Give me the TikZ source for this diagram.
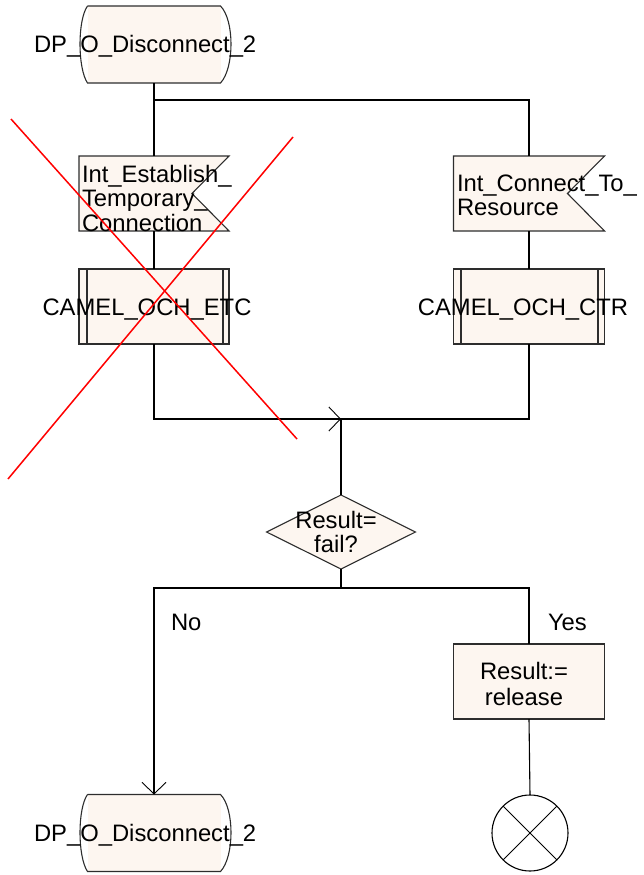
\documentclass[tikz,border=0pt]{standalone}
\usepackage{fontspec}
\setmainfont{Liberation Sans}
\usetikzlibrary{calc,shapes.geometric,arrows.meta}

\definecolor{sdlfill}{RGB}{253,246,240}
\definecolor{sdlline}{RGB}{45,45,45}

\tikzset{
  flow/.style={draw=black, line width=1.1pt},
  openarrow/.style={-{Straight Barb[length=11.5pt,width=24pt,line width=0.9pt]}},
  box/.style={draw=sdlline, line width=1.1pt},
  shapebody/.style={inner sep=0pt, outer sep=0pt},
  terminal/.style={shapebody, fill=sdlfill, minimum width=133pt, minimum height=77pt},
  flagbox/.style={shapebody, minimum width=150pt, minimum height=75pt},
  procbox/.style={shapebody, box, fill=sdlfill, minimum width=150pt, minimum height=75pt},
  taskbox/.style={shapebody, box, fill=sdlfill, minimum width=151pt, minimum height=75pt},
  decision/.style={shapebody, box, fill=sdlfill, diamond, minimum width=149pt, minimum height=74pt},
  stopsym/.style={shapebody, draw=black, line width=1.1pt, circle, minimum size=76pt},
  txt/.style={inner sep=0pt, outer sep=0pt, font=\fontsize{23.8}{24.4}\selectfont},
  cross/.style={draw=red, line width=1.5pt},
}

% terminal: straight top and bottom, bulging sides
\newcommand\termoutline[1]{%
  \draw[box] (#1.north west) -- (#1.north east)
    .. controls +(14,14) and +(14,-15) .. (#1.south east)
    -- (#1.south west)
    .. controls +(-10,-15) and +(-10,14) .. (#1.north west);}
% input signal: notch cut into the right side
\newcommand\flagoutline[1]{%
  \draw[box, fill=sdlfill] (#1.north west) -- (#1.north east)
    -- ($(#1.east)+(-37,0)$) -- (#1.south east) -- (#1.south west) -- cycle;}
% procedure call: inner vertical bars
\newcommand\procbars[3]{%
  \draw[box] ($(#1.north west)+(#2,0)$) -- ($(#1.south west)+(#2,0)$);
  \draw[box] ($(#1.north east)+(-#3,0)$) -- ($(#1.south east)+(-#3,0)$);}

\begin{document}
\begin{tikzpicture}[x=1pt, y=-1pt]
  \useasboundingbox (0,0) rectangle (643,875);

  % start terminal
  \node[terminal] (tTop) at (154,44.5) {};
  \termoutline{tTop}
  \node[txt, anchor=base west] (tTopTxt) at (34,52.7) {DP\_O\_Disconnect\_2};

  % left branch: input and procedure call
  \node[flagbox] (flagL) at (154,193.5) {};
  \flagoutline{flagL}
  \node[txt, anchor=base west, align=left] (flagLTxt) at (82,231)
    {Int\_Establish\_\\Temporary\_\\Connection};
  \node[procbox] (procL) at (154,306.5) {};
  \procbars{procL}{8}{6}
  \node[txt, anchor=base] (procLTxt) at (147,315) {CAMEL\_OCH\_ETC};

  % right branch: input and procedure call
  \node[flagbox, minimum width=151pt] (flagR) at (529,193.5) {};
  \flagoutline{flagR}
  \node[txt, anchor=base west, align=left] (flagRTxt) at (457,215.5)
    {Int\_Connect\_To\_\\Resource};
  \node[procbox, minimum width=151pt] (procR) at (529,306.5) {};
  \procbars{procR}{7.5}{6.5}
  \node[txt, anchor=base] (procRTxt) at (523,315) {CAMEL\_OCH\_CTR};

  % decision
  \node[decision] (dec) at (341,532) {};
  \node[txt, anchor=base, align=center] (decTxt) at (336,552.7) {Result=\\fail?};

  % yes branch
  \node[taskbox] (task) at (529,681.5) {};
  \node[txt, anchor=base, align=center,
        font=\fontsize{23.8}{26}\selectfont] (taskTxt) at (524,705) {Result:=\\release};
  \node[stopsym] (stop) at (530,833) {};
  \draw[line width=0.9pt] (stop.north west) -- (stop.south east);
  \draw[line width=0.9pt] (stop.north east) -- (stop.south west);

  % no branch: end terminal
  \node[terminal] (tBot) at (154,833) {};
  \termoutline{tBot}
  \node[txt, anchor=base west] (tBotTxt) at (34,841) {DP\_O\_Disconnect\_2};

  \node[txt, anchor=base west] (noTxt) at (171,630) {No};
  \node[txt, anchor=base west] (yesTxt) at (548,630) {Yes};

  % junction points
  \coordinate (br) at (154,100);
  \coordinate (join) at (341,419);
  \coordinate (split) at (341,588);

  % flow lines
  \draw[flow] (tTop.south) -- (flagL.north);
  \draw[flow] (br) -| (flagR.north);
  \draw[flow] (flagL.south) -- (procL.north);
  \draw[flow] (flagR.south) -- (procR.north);
  \draw[flow, openarrow] (procL.south) |- (join);
  \draw[flow] (procR.south) |- (join) -- (dec.north);
  \draw[flow] (dec.south) -- (split);
  \draw[flow, openarrow] (split) -| (tBot.north);
  \draw[flow] (split) -| (task.north);
  \draw[flow] (task.south) -- (stop.north);

  % strike-out across the left branch
  \coordinate (crA1) at (11,119);
  \coordinate (crA2) at (297,439);
  \coordinate (crB1) at (293,137);
  \coordinate (crB2) at (8,479);
  \draw[cross] (crA1) -- (crA2);
  \draw[cross] (crB1) -- (crB2);
\end{tikzpicture}
\end{document}
